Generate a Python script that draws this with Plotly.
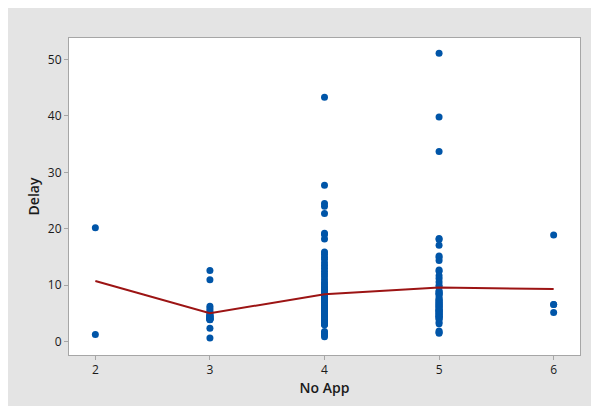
import plotly.graph_objects as go

# Data
delay_2 = [20.2, 1.3]
delay_3 = [12.6, 11.0, 6.3, 5.9, 5.5, 5.2, 4.9, 4.7, 4.5, 4.3, 4.1, 3.9, 4.0, 4.4,
           3.95, 2.4, 0.65, 4.0, 4.2, 4.6]
delay_4 = [43.3, 27.7, 24.5, 24.0, 22.7, 19.2, 19.0, 18.2,
           15.9, 15.5, 15.0, 14.6, 14.0, 13.5, 13.0, 12.5, 12.0, 11.5, 11.0, 10.5,
           10.2, 9.8, 9.5, 9.2, 9.0, 8.7, 8.4, 8.1, 7.8, 7.5, 7.2, 6.9, 6.6, 6.3,
           6.0, 5.7, 5.4, 5.1, 4.8, 4.5, 4.2, 3.9, 3.6, 3.3, 3.0,
           1.8, 1.5, 1.2, 0.9,
           3.2, 3.5, 3.8, 4.0, 4.3, 4.6, 4.9, 5.2, 5.5, 5.8, 6.1, 6.4, 6.7, 7.0,
           7.3, 7.6, 7.9, 8.2, 8.5, 8.8,
           3.1, 3.4, 3.7, 3.9, 4.2, 4.5, 4.8, 5.1, 5.4, 5.7, 6.0, 6.3, 6.6, 6.9,
           7.2, 7.5, 7.8, 8.1, 8.4, 8.7,
           4.5, 5.0, 5.5, 6.0, 6.5, 7.0, 7.5]
delay_5 = [51.1, 39.8, 33.7, 18.3, 18.1, 17.1, 15.2, 14.9, 14.4, 12.7, 12.5,
           11.7, 11.2, 10.6, 10.0, 9.7, 8.9, 8.6, 8.4, 7.2, 6.7, 6.3, 5.8, 5.5,
           5.0, 4.5, 4.2, 3.2, 1.9, 1.7, 1.5,
           3.5, 4.0, 4.5, 5.0, 5.5, 6.0, 6.5, 7.0, 7.5, 8.0, 8.5, 9.0,
           4.2, 4.8, 5.2, 5.6, 6.0, 6.4, 6.8, 7.2, 7.6, 4.6, 5.4]
delay_6 = [18.9, 6.6, 6.6, 5.2]

groups = [2, 3, 4, 5, 6]
group_values = [delay_2, delay_3, delay_4, delay_5, delay_6]
x_ticks = [2, 3, 4, 5, 6]
y_ticks = [0, 10, 20, 30, 40, 50]

xs, ys = [], []
for g, vals in zip(groups, group_values):
    xs += [g] * len(vals)
    ys += vals
means = [sum(v) / len(v) for v in group_values]

fig = go.Figure()
fig.add_trace(go.Scatter(
    x=xs, y=ys, mode="markers",
    marker=dict(color="#0055a8", size=7, line=dict(width=0)),
    showlegend=False, hoverinfo="skip"))
fig.add_trace(go.Scatter(
    x=groups, y=means, mode="lines",
    line=dict(color="#9c1414", width=2),
    showlegend=False, hoverinfo="skip"))

# page body margin (8px) gives the white strip at top/left
W, H = 591, 398
L, R, T, B = 61, 19, 30, 51

axis_font = dict(family="Open Sans, Noto Sans, sans-serif", size=14,
                 color="#1a1a1a", weight=600)
tick_font = dict(family="Open Sans, Noto Sans, sans-serif", size=12,
                 color="#1a1a1a")

fig.update_layout(
    width=W, height=H,
    margin=dict(l=L, r=R, t=T, b=B),
    paper_bgcolor="#e4e4e4",
    plot_bgcolor="white",
    xaxis=dict(
        range=[1.77, 6.23], tickvals=x_ticks, ticktext=[str(t) for t in x_ticks],
        showgrid=False, zeroline=False, showline=True, linecolor="#a6a6a6",
        linewidth=1, mirror=True, ticks="outside", ticklen=4, tickcolor="#a6a6a6",
        tickfont=tick_font,
        title=dict(text="No App", font=axis_font, standoff=1)),
    yaxis=dict(
        range=[-2.35, 53.8], tickvals=y_ticks, ticktext=[str(t) for t in y_ticks],
        showgrid=False, zeroline=False, showline=True, linecolor="#a6a6a6",
        linewidth=1, mirror=True, ticks="outside", ticklen=4, tickcolor="#a6a6a6",
        tickfont=tick_font,
        title=dict(text="Delay", font=axis_font, standoff=4)),
)

fig.write_html("out.html")
